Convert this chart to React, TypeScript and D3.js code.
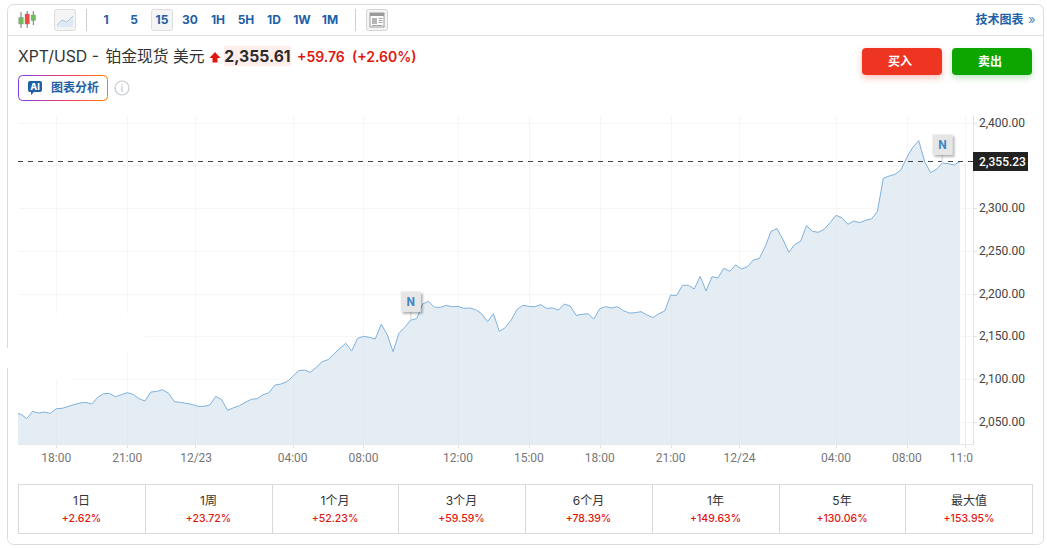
import React from "react";
import * as d3 from "d3";

const prices = [
  2061.7, 2059.8, 2054.7, 2063.3, 2061.3, 2062.5, 2060.9, 2066.4, 2066.8, 2069.1,
  2071.0, 2073.0, 2073.8, 2071.8, 2079.6, 2083.9, 2084.3, 2080.4, 2082.7, 2085.1,
  2083.1, 2078.1, 2075.3, 2085.9, 2086.6, 2088.6, 2084.3, 2074.6, 2073.8, 2072.6,
  2071.4, 2069.1, 2069.1, 2070.7, 2080.8, 2076.9, 2064.4, 2067.5, 2069.9, 2073.8,
  2077.3, 2078.1, 2082.7, 2085.1, 2094.0, 2095.2, 2097.9, 2103.8, 2110.8, 2111.6,
  2108.9, 2114.7, 2121.3, 2123.7, 2130.3, 2136.9, 2142.8,
  2133.8, 2148.6, 2151.0, 2149.8, 2147.8, 2165.0, 2153.3, 2133.0, 2154.5, 2161.5,
  2170.0, 2171.6, 2188.7, 2191.9, 2184.9, 2184.9, 2187.2, 2185.6, 2186.0, 2183.7,
  2184.1, 2182.1, 2177.4, 2168.1, 2177.4, 2156.8, 2161.1, 2170.0, 2182.5, 2187.2,
  2186.0, 2185.6, 2188.0, 2183.7, 2184.1, 2181.7, 2188.7, 2186.4, 2175.5, 2176.7,
  2177.4, 2171.2, 2183.3, 2185.6, 2184.1, 2185.6, 2181.0, 2178.2, 2178.6, 2179.8,
  2175.9, 2172.8, 2177.4, 2180.6,
  2199.3, 2198.5, 2210.6, 2210.6, 2206.3, 2221.1, 2204.0, 2220.7, 2219.2, 2230.5,
  2227.0, 2234.4, 2229.7, 2232.4, 2240.2, 2241.8, 2255.8, 2273.7, 2276.9, 2264.4,
  2249.2, 2258.2, 2262.1, 2280.4, 2273.7, 2272.6, 2276.1, 2283.9, 2292.4, 2289.7,
  2281.9, 2285.8, 2283.9, 2286.6, 2288.2, 2296.7, 2335.7, 2338.4, 2340.4, 2345.8,
  2360.3, 2372.0, 2379.7, 2355.2, 2342.3, 2346.2, 2353.6, 2352.8, 2351.3, 2355.6,
];
const yTicks = [2050, 2100, 2150, 2200, 2250, 2300, 2350, 2400];
const yLabelTicks = [2050, 2100, 2150, 2200, 2250, 2300, 2400];
const xTickIndex = [7, 19, 30.5, 47, 59, 75, 87, 99, 111, 122.5, 139, 151, 160.8];
const xTickLabels = ["18:00", "21:00", "12/23", "04:00", "08:00", "12:00", "15:00", "18:00", "21:00", "12/24", "04:00", "08:00", "11:00"];
const newsIndex = [67, 157];
const lastPrice = 2355.23;
const intervals = ["1", "5", "15", "30", "1H", "5H", "1D", "1W", "1M"];
const perfLabels = ["1日", "1周", "1个月", "3个月", "6个月", "1年", "5年", "最大值"];
const perfValues = ["+2.62%", "+23.72%", "+52.23%", "+59.59%", "+78.39%", "+149.63%", "+130.06%", "+153.95%"];
const perfEdges = [18, 145, 272, 398, 525, 652, 779, 905, 1033];

const CJK = "'Noto Sans CJK SC'";
const UI = `Inter, ${CJK}, sans-serif`;
const AX = `Roboto, ${CJK}, sans-serif`;
const BLUE = "#1f5fa6";
const RED = "#e0170f";

export default function App() {
  const x = d3.scaleLinear().domain([0, prices.length - 1]).range([14.97, 14.97 + 5.907 * (prices.length - 1)]);
  const y = d3.scaleLinear().domain([2050, 2400]).range([422.7, 123.3]);
  const yGrid = d3.scaleLinear().domain([2050, 2400]).range([422.1, 123.2]);
  const plotBottom = 444;
  const plotLeft = 18;
  const plotRight = 973;
  const line = d3.line<number>().x((_, i) => x(i)).y((d) => y(d));
  const area = d3.area<number>().x((_, i) => x(i)).y0(plotBottom).y1((d) => y(d));
  const snap = (v: number) => Math.floor(yGrid(v)) + 0.5;
  const snapX = (v: number) => Math.round(x(v)) + 0.5;
  const lastY = snap(lastPrice);

  return (
    <svg width={1047} height={548} viewBox="0 0 1047 548" style={{ position: "absolute", left: 0, top: 0, display: "block", background: "#fff" }}>
      <defs>
        <clipPath id="plot"><rect x={plotLeft} y={100} width={plotRight - plotLeft} height={plotBottom - 100} /></clipPath>
        <clipPath id="xlab"><rect x={0} y={445} width={plotRight} height={25} /></clipPath>
        <linearGradient id="ai" x1="0" x2="1" y1="0" y2="0">
          <stop offset="0" stopColor="#7a3cf0" />
          <stop offset="0.5" stopColor="#ee3a70" />
          <stop offset="1" stopColor="#ff7a00" />
        </linearGradient>
        <filter id="redS" x="-20%" y="-40%" width="140%" height="200%"><feDropShadow dx="0" dy="3" stdDeviation="3" floodColor="#ee3524" floodOpacity="0.3" /></filter>
        <filter id="greenS" x="-20%" y="-40%" width="140%" height="200%"><feDropShadow dx="0" dy="3" stdDeviation="3" floodColor="#0ca600" floodOpacity="0.25" /></filter>
        <filter id="flagS" x="-30%" y="-30%" width="170%" height="170%"><feDropShadow dx="2" dy="2" stdDeviation="1" floodColor="#000" floodOpacity="0.3" /></filter>
      </defs>

      {/* card */}
      <rect x={7.5} y={4.5} width={1036} height={540} rx={6} fill="#fff" stroke="#dcdcdc" />
      <line x1={8} x2={1043} y1={35.5} y2={35.5} stroke="#dedede" />

      {/* toolbar icons */}
      {[[21, 12, 28, 17.5, 24, "#6cbf5a"], [27.2, 11, 28, 14, 24, "#ee4b40"], [33.3, 11, 25, 15, 20.5, "#6cbf5a"]].map((c: any, i) => (
        <g key={i}>
          <line x1={c[0]} x2={c[0]} y1={c[1]} y2={c[2]} stroke="#777" />
          <rect x={c[0] - 2.2} y={c[3]} width={4.4} height={c[4] - c[3]} fill={c[5]} stroke="#8a8a8a" strokeWidth={0.4} />
        </g>
      ))}
      <rect x={54.5} y={9.5} width={21} height={21} rx={2} fill="#f4f4f4" stroke="#dddddd" />
      <path d="M57 25 L62 20 L67 22 L73 16 L73 27 L57 27 Z" fill="#dde9f4" stroke="none" />
      <path d="M57 25 L62 20 L67 22 L73 16" fill="none" stroke="#a9c8e4" />
      <line x1={86.5} x2={86.5} y1={9} y2={31} stroke="#cfcfcf" />
      <rect x={151.5} y={9.5} width={21} height={21} rx={2} fill="#f5f5f5" stroke="#dddddd" />
      {intervals.map((t, i) => (
        <text key={t} x={106 + i * 28} y={24} textAnchor="middle" fontFamily={UI} fontSize={12} fontWeight={700} fill={BLUE}>{t}</text>
      ))}
      <line x1={355.5} x2={355.5} y1={9} y2={31} stroke="#cfcfcf" />
      <rect x={366.5} y={9.5} width={21} height={21} rx={2} fill="#f4f4f4" stroke="#d5d5d5" />
      <rect x={370} y={13} width={14} height={14} fill="#fff" stroke="#9a9a9a" />
      <rect x={370} y={13} width={14} height={3} fill="#9a9a9a" />
      <rect x={372} y={18} width={5} height={6} fill="#b5b5b5" />
      <path d="M378.5 18.5H382.5M378.5 20.5H382.5M378.5 22.5H382.5M372 25.5H382.5" stroke="#a5a5a5" />
      <text x={975.5} y={24} fontFamily={UI} fontSize={12} fontWeight={700} fill={BLUE}>技术图表</text>
      <text x={1028} y={24} fontFamily={UI} fontSize={13} fill="#4f86bd">»</text>

      {/* title */}
      <text x={18} y={62} fontFamily={UI} fontSize={15.8} fill="#333">XPT/USD - <tspan dx={2}>铂金现货 美元</tspan></text>
      <path d="M209.5 58 L215 52 L220.5 58 L217.5 58 L217.5 62.5 L212.5 62.5 L212.5 58 Z" fill={RED} />
      <rect x={224} y={46} width={67} height={20} fill="#fdeeec" />
      <text x={224.3} y={62} fontFamily={UI} fontSize={15.7} fontWeight={700} fill="#2b2b2b">2,355.61</text>
      <text x={297} y={62} fontFamily={UI} fontSize={14} fontWeight={600} fill={RED}>+59.76</text>
      <text x={352} y={62} fontFamily={UI} fontSize={14} fontWeight={600} fill={RED}>(+2.60%)</text>

      {/* AI button */}
      <rect x={18.5} y={75.5} width={89} height={25} rx={4} fill="#fff" stroke="url(#ai)" />
      <path d="M30 81 H40 Q42 81 42 83 V90 Q42 92 40 92 H34 L31 95 V92 H30 Q28 92 28 90 V83 Q28 81 30 81 Z" fill="#1f5fa6" />
      <text x={35} y={90} textAnchor="middle" fontFamily={UI} fontSize={9} fontWeight={800} fill="#fff">AI</text>
      <text x={51} y={92} fontFamily={UI} fontSize={12} fontWeight={700} fill={BLUE}>图表分析</text>
      <circle cx={122} cy={88} r={7} fill="#fff" stroke="#c9c9c9" strokeWidth={1.2} />
      <text x={122} y={92} textAnchor="middle" fontFamily={AX} fontSize={10} fill="#c0c0c0">i</text>

      {/* buy / sell */}
      <rect x={862} y={48} width={80} height={27} rx={4} fill="#ee3524" filter="url(#redS)" />
      <text x={900} y={66} textAnchor="middle" fontFamily={UI} fontSize={12} fontWeight={700} fill="#fff">买入</text>
      <rect x={952} y={48} width={80} height={27} rx={4} fill="#0ca600" filter="url(#greenS)" />
      <text x={990} y={66} textAnchor="middle" fontFamily={UI} fontSize={12} fontWeight={700} fill="#fff">卖出</text>

      {/* grid */}
      {yTicks.map((v) => (
        <line key={v} x1={19} x2={plotRight} y1={snap(v)} y2={snap(v)} stroke="#f6f6f6" />
      ))}
      {xTickIndex.map((v, i) => (
        <line key={i} x1={snapX(v)} x2={snapX(v)} y1={116} y2={plotBottom} stroke="#f6f6f6" />
      ))}
      {/* erased patch */}
      <rect x={18} y={313} width={127} height={39} fill="#fff" opacity={0.85} />
      <rect x={18} y={352} width={52} height={28} fill="#fff" opacity={0.85} />
      <rect x={5} y={348} width={4} height={20} fill="#fff" />

      {/* series */}
      <g clipPath="url(#plot)">
        <path d={area(prices) as string} fill="#e4ecf4" />
        {xTickIndex.map((v, i) => (
          <line key={i} x1={snapX(v)} x2={snapX(v)} y1={y(prices[Math.round(Math.min(v, prices.length - 1))])} y2={plotBottom} stroke="#dde5ee" opacity={0.5} />
        ))}
        <path d={line(prices) as string} fill="none" stroke="#7fb2dc" strokeWidth={1} />
      </g>

      {/* axes */}
      <line x1={973.5} x2={973.5} y1={116} y2={plotBottom + 1} stroke="#e2e2e2" />
      <line x1={plotLeft} x2={plotRight} y1={plotBottom + 0.5} y2={plotBottom + 0.5} stroke="#e8e8e8" />
      {yLabelTicks.map((v) => (
        <g key={v}>
          <line x1={973} x2={977} y1={snap(v)} y2={snap(v)} stroke="#e2e2e2" />
          <text x={979} y={snap(v) + 3.2} fontFamily={AX} fontSize={12} fill="#444">{d3.format(",.2f")(v)}</text>
        </g>
      ))}
      <g clipPath="url(#xlab)">
        {xTickIndex.map((v, i) => (
          <g key={i}>
            <line x1={snapX(v)} x2={snapX(v)} y1={plotBottom} y2={plotBottom + 4} stroke="#e2e2e2" />
            <text x={x(v) + (i === 2 || i === 9 ? 1 : 0)} y={462} textAnchor="middle" fontFamily={AX} fontSize={12} fill="#777">{xTickLabels[i]}</text>
          </g>
        ))}
      </g>

      {/* last price */}
      <line x1={plotLeft} x2={plotRight} y1={lastY} y2={lastY} stroke="#444" strokeDasharray="5 5" />
      <rect x={973} y={lastY - 9.5} width={55} height={19} fill="#222" />
      <text x={979} y={lastY + 4} fontFamily={AX} fontSize={12} fontWeight={500} fill="#fff">{d3.format(",.2f")(lastPrice)}</text>

      {/* news flags */}
      {newsIndex.map((k) => {
        const fx = x(k);
        const tip = y(prices[k]);
        const top = tip - 28.7;
        return (
          <g key={k}>
            <line x1={fx} x2={fx} y1={top + 20} y2={tip} stroke="#e0e0e0" strokeWidth={1.5} />
            <rect x={fx - 10} y={top} width={20} height={20.5} fill="#e6e6e6" filter="url(#flagS)" />
            <text x={fx} y={top + 14.5} textAnchor="middle" fontFamily={AX} fontSize={12} fontWeight={700} fill="#3d86c6">N</text>
          </g>
        );
      })}

      {/* performance table */}
      <rect x={18.5} y={484.5} width={1014} height={49} fill="#fff" stroke="#d9d9d9" />
      {perfEdges.slice(1, -1).map((e) => (
        <line key={e} x1={e + 0.5} x2={e + 0.5} y1={485} y2={533} stroke="#d9d9d9" />
      ))}
      {perfLabels.map((t, i) => {
        const cx = (perfEdges[i] + perfEdges[i + 1]) / 2;
        return (
          <g key={t}>
            <text x={cx} y={505} textAnchor="middle" fontFamily={UI} fontSize={12} fill="#333">{t}</text>
            <text x={cx} y={522} textAnchor="middle" fontFamily={UI} fontSize={10.5} fontWeight={500} fill={RED}>{perfValues[i]}</text>
          </g>
        );
      })}
    </svg>
  );
}
